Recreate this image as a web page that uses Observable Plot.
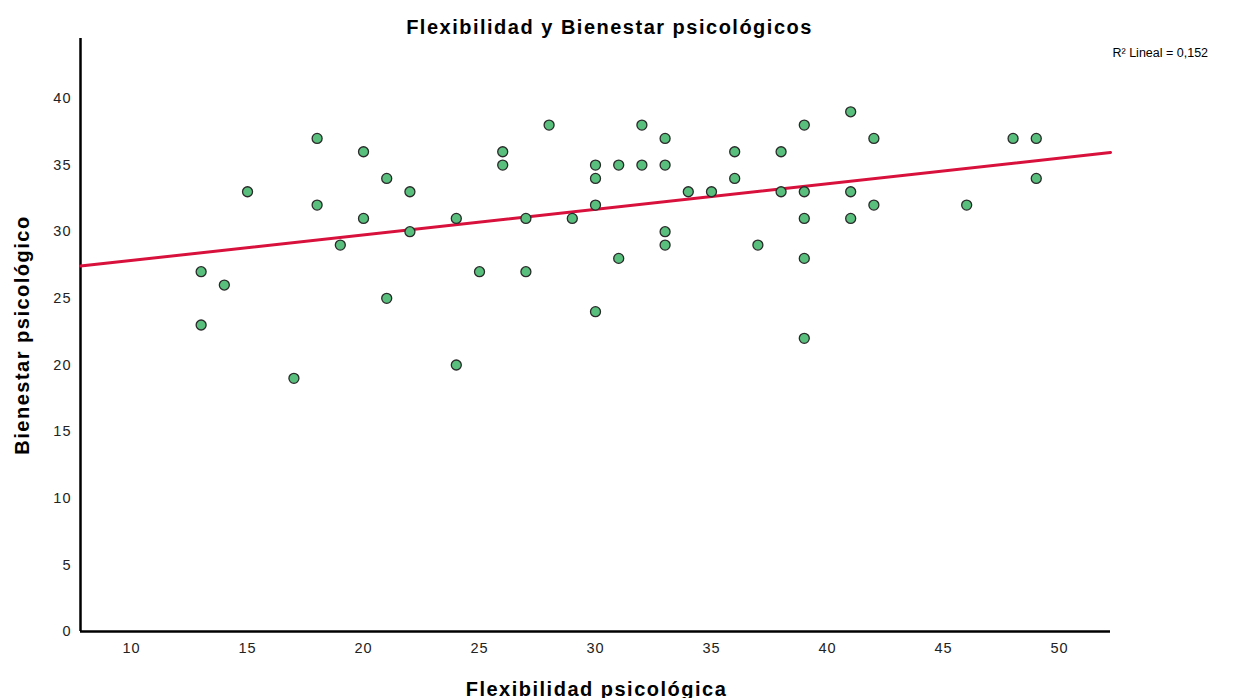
<!DOCTYPE html>
<html>
<head>
<meta charset="utf-8">
<script src="https://cdn.jsdelivr.net/npm/d3@7"></script>
<script src="https://cdn.jsdelivr.net/npm/@observablehq/plot@0.6"></script>
<style>
  body { margin: 0; background: #fff; font-family: "Liberation Sans", Arial, sans-serif; }
  #chart svg { display: block; }
  .big text { letter-spacing: 1.5px; }
  .tick text { letter-spacing: 1px; }
</style>
</head>
<body>
<div id="chart"></div>
<script>
const title = "Flexibilidad y Bienestar psicológicos";
const xLabel = "Flexibilidad psicológica";
const yLabel = "Bienestar psicológico";
const fitLabel = "R² Lineal = 0,152";

const flexibilidad = [13,13,14,15,17,18,18,19,20,20,21,21,22,22,24,24,25,26,26,27,27,28,29,30,30,30,30,31,31,32,32,33,33,33,33,34,35,36,36,37,38,38,39,39,39,39,39,41,41,41,42,42,46,48,49,49];
const bienestar    = [27,23,26,33,19,37,32,29,36,31,34,25,33,30,31,20,27,36,35,31,27,38,31,35,34,32,24,35,28,38,35,37,35,30,29,33,33,36,34,29,36,33,38,33,31,28,22,39,33,31,37,32,32,37,37,34];

const xDomain = [7.8, 52.2];
const yDomain = [0, 44.5];
const xTicks = [10,15,20,25,30,35,40,45,50];
const yTicks = [0,5,10,15,20,25,30,35,40];

const data = flexibilidad.map((x, i) => ({x, y: bienestar[i]}));

// OLS fit
const mx = d3.mean(flexibilidad), my = d3.mean(bienestar);
const sxy = d3.sum(data, d => (d.x - mx) * (d.y - my));
const sxx = d3.sum(data, d => (d.x - mx) ** 2);
const slope = sxy / sxx, intercept = my - slope * mx;
const fit = xDomain.map(x => ({x, y: intercept + slope * x}));

const chart = Plot.plot({
  width: 1244,
  height: 698,
  marginLeft: 80,
  marginRight: 134,
  marginTop: 38,
  marginBottom: 67,
  style: {fontFamily: "'Liberation Sans', Arial, sans-serif", background: "#fff", overflow: "visible"},
  x: {domain: xDomain, label: null},
  y: {domain: yDomain, label: null},
  marks: [
    Plot.axisX({ticks: xTicks, tickSize: 0, tickPadding: 11, fontSize: 14.5, fill: "#222", label: null, className: "tick"}),
    Plot.axisY({ticks: yTicks, tickSize: 0, tickPadding: 9, fontSize: 14.5, fill: "#222", label: null, className: "tick"}),
    Plot.ruleX([xDomain[0]], {stroke: "#000", strokeWidth: 2.5}),
    Plot.ruleY([0], {stroke: "#000", strokeWidth: 2.5}),
    Plot.line(fit, {x: "x", y: "y", stroke: "#d8103c", strokeWidth: 3}),
    Plot.dot(data, {x: "x", y: "y", r: 5, fill: "#58bf7c", stroke: "#2a2a2a", strokeWidth: 1.3}),
    Plot.text([title], {frameAnchor: "top", lineAnchor: "middle", dx: 14, dy: -11, fontSize: 20, fontWeight: "bold", fill: "#000", className: "big"}),
    Plot.text([fitLabel], {frameAnchor: "top-right", textAnchor: "start", lineAnchor: "middle", dx: 2, dy: 14, fontSize: 12.5, fill: "#000"}),
    Plot.text([xLabel], {frameAnchor: "bottom", lineAnchor: "middle", dx: 1, dy: 58, fontSize: 20, fontWeight: "bold", fill: "#000", className: "big"}),
    Plot.text([yLabel], {frameAnchor: "left", textAnchor: "middle", lineAnchor: "middle", rotate: -90, dx: -58, dy: 0, fontSize: 20, fontWeight: "bold", fill: "#000", className: "big"})
  ]
});
document.getElementById("chart").appendChild(chart);
</script>
</body>
</html>
